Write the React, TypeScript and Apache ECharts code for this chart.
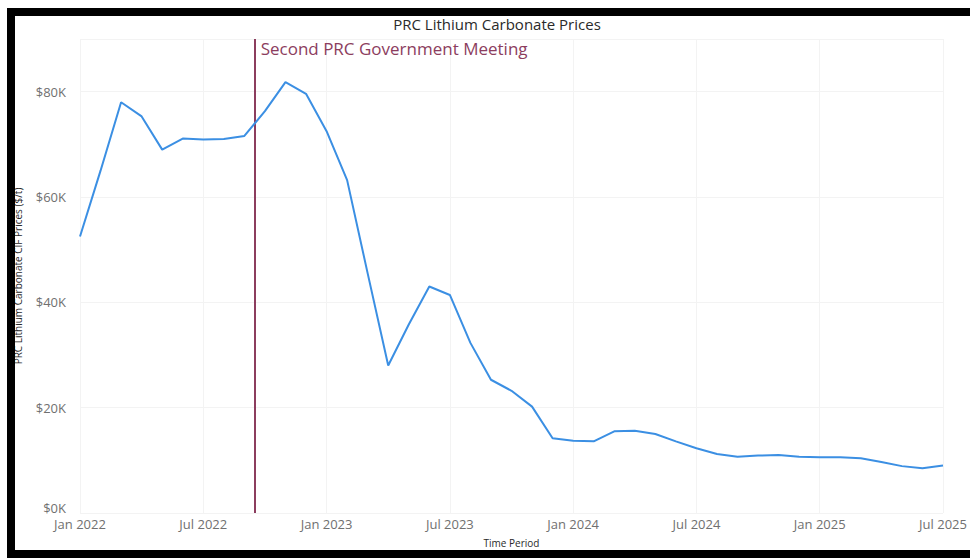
import React, { useEffect, useRef } from "react";
import * as echarts from "echarts";

// Monthly PRC lithium carbonate CIF prices, $/t
const months: string[] = [
  "2022-01", "2022-02", "2022-03", "2022-04", "2022-05", "2022-06",
  "2022-07", "2022-08", "2022-09", "2022-10", "2022-11", "2022-12",
  "2023-01", "2023-02", "2023-03", "2023-04", "2023-05", "2023-06",
  "2023-07", "2023-08", "2023-09", "2023-10", "2023-11", "2023-12",
  "2024-01", "2024-02", "2024-03", "2024-04", "2024-05", "2024-06",
  "2024-07", "2024-08", "2024-09", "2024-10", "2024-11", "2024-12",
  "2025-01", "2025-02", "2025-03", "2025-04", "2025-05", "2025-06",
  "2025-07",
];

const prices: number[] = [
  52500, 65000, 78000, 75300, 69000, 71100,
  70900, 71000, 71600, 76300, 81800, 79600,
  72500, 63200, 45500, 28000, 35800, 43000,
  41400, 32300, 25300, 23200, 20200, 14200,
  13700, 13600, 15500, 15600, 15000, 13600,
  12300, 11200, 10700, 10900, 11000, 10700,
  10600, 10600, 10400, 9700, 8900, 8500,
  9000,
];

// Event marker: mid-September 2022 (fractional month index)
const eventLabel = "Second PRC Government Meeting";
const eventMonth = 8.5;

const yTicks: number[] = [0, 20000, 40000, 60000, 80000];
const yMax = 90000;

const monthNames = ["Jan", "Feb", "Mar", "Apr", "May", "Jun", "Jul", "Aug", "Sep", "Oct", "Nov", "Dec"];

function monthLabel(i: number): string {
  const m = months[Math.round(i)];
  if (!m) return "";
  const [y, mm] = m.split("-");
  return `${monthNames[parseInt(mm, 10) - 1]} ${y}`;
}

const FONT = "'Open Sans', 'Noto Sans', sans-serif";
const EVENT_COLOR = "#8c3d5e";

export default function App() {
  const ref = useRef<HTMLDivElement>(null);

  useEffect(() => {
    if (!ref.current) return;
    const chart = echarts.init(ref.current, undefined, { renderer: "svg" });
    const data = prices.map((v, i) => [i, v]);

    chart.setOption({
      animation: false,
      backgroundColor: "#ffffff",
      title: {
        text: "PRC Lithium Carbonate Prices",
        left: 492,
        top: 11,
        textAlign: "center",
        textStyle: { fontFamily: FONT, fontSize: 15, fontWeight: "normal", color: "#2a2a2a" },
      },
      grid: { left: 80, right: 27, top: 39, bottom: 45, containLabel: false },
      xAxis: {
        type: "value",
        min: 0,
        max: months.length - 1,
        interval: 6,
        name: "Time Period",
        nameLocation: "middle",
        nameGap: 25,
        nameTextStyle: { fontFamily: FONT, fontSize: 10, color: "#2a2a2a" },
        axisLine: { show: false },
        axisTick: { show: false },
        axisLabel: {
          fontFamily: FONT,
          fontSize: 13,
          color: "#707070",
          margin: 4,
          formatter: (v: number) => monthLabel(v),
        },
        splitLine: { show: true, lineStyle: { color: "#f3f3f3", width: 1 } },
      },
      yAxis: {
        type: "value",
        min: 0,
        max: yMax,
        interval: 20000,
        name: "PRC Lithium Carbonate CIF Prices ($/t)",
        nameLocation: "middle",
        nameGap: 57,
        nameRotate: 90,
        nameTextStyle: { fontFamily: FONT, fontSize: 10, color: "#2a2a2a" },
        axisLine: { show: false },
        axisTick: { show: false },
        axisLabel: {
          fontFamily: FONT,
          fontSize: 13,
          color: "#707070",
          margin: 14,
          formatter: (v: number) => {
            if (!yTicks.includes(v)) return "";
            const txt = `$${v / 1000}K`;
            return v === 0 ? `{zero|${txt}}` : txt;
          },
          rich: {
            zero: { fontFamily: FONT, fontSize: 13, color: "#707070", padding: [0, 0, 10, 0] },
          },
        },
        splitLine: {
          show: true,
          lineStyle: { color: "#f3f3f3", width: 1 },
        },
      },
      series: [
        {
          type: "line",
          data,
          showSymbol: false,
          symbol: "none",
          lineStyle: { color: "#3b8fe3", width: 2 },
          z: 3,
          markLine: {
            silent: true,
            symbol: ["none", "none"],
            label: { show: false },
            lineStyle: { color: EVENT_COLOR, width: 2, type: "solid" },
            data: [{ xAxis: eventMonth }],
            z: 2,
          },
        },
      ],
    });

    const [px, py] = chart.convertToPixel({ gridIndex: 0 }, [eventMonth, yMax]) as number[];
    chart.setOption({
      graphic: [
        {
          type: "text",
          left: px + 6,
          top: py + 1,
          style: {
            text: eventLabel,
            fontFamily: FONT,
            fontSize: 17,
            fill: EVENT_COLOR,
          },
        },
      ],
    });

    return () => chart.dispose();
  }, []);

  return (
    <div
      style={{
        position: "fixed",
        left: 0,
        top: 0,
        width: 970,
        height: 558,
        overflow: "hidden",
        background: "#ffffff",
      }}
    >
      <div ref={ref} style={{ position: "absolute", left: 0, top: 0, width: 970, height: 558 }} />
      <div
        style={{
          position: "absolute",
          left: 7,
          top: 8,
          width: 1000,
          height: 550,
          boxSizing: "border-box",
          border: "8px solid #000000",
          pointerEvents: "none",
        }}
      />
    </div>
  );
}
